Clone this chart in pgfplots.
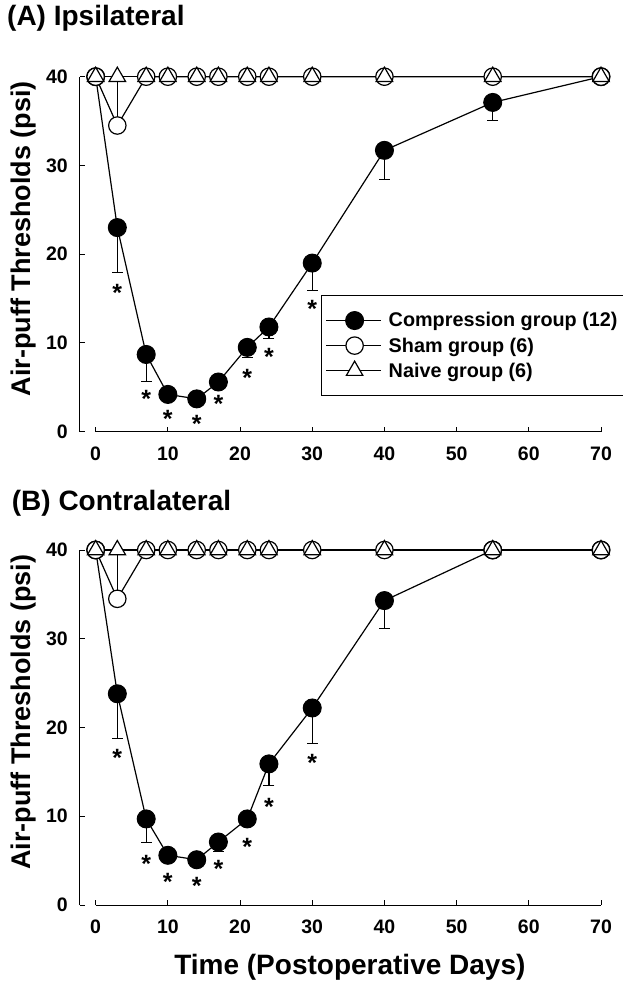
\documentclass[border=0pt]{standalone}
\usepackage{pgfplots}
\pgfplotsset{compat=1.18}
\usepackage{fontspec}
\setmainfont{Liberation Sans}

\newcommand{\tickfont}{\fontsize{19.5}{20}\selectfont\bfseries}
\newcommand{\legfont}{\fontsize{19.8}{20}\selectfont\bfseries}
\newcommand{\labfont}{\fontsize{27}{28}\selectfont\bfseries}
\newcommand{\titfont}{\fontsize{28}{29}\selectfont\bfseries}

\pgfplotsset{
  panel/.style={
    scale only axis, width=521pt, height=355pt,
    xmin=-2.17, xmax=70, ymin=0, ymax=40,
    clip=false,
    axis lines*=left,
    axis line style={draw=none},
    tick align=inside,
    major tick length=5pt,
    every tick/.style={black, line width=1pt},
    xtick={0,10,...,70}, ytick={0,10,...,40},
    minor tick num=0,
    /pgf/number format/assume math mode=true,
    xticklabel style={font=\tickfont, anchor=north, inner sep=0pt, yshift=-15pt},
    yticklabel style={font=\tickfont, anchor=east, inner sep=0pt, xshift=-12pt},
    ylabel={Air-puff Thresholds (psi)},
    ylabel style={font=\labfont, at={(axis description cs:-0.1075,0.543)}, anchor=center},
    title style={font=\titfont, anchor=base west, inner sep=0pt},
  },
  comp/.style={black, line width=1.2pt, mark=*, mark size=9pt,
    mark options={fill=black, line width=1pt},
    error bars/y dir=minus, error bars/y explicit,
    error bars/error bar style={line width=1.2pt},
    error bars/error mark options={mark size=5.5pt, line width=1.2pt, rotate=90}},
  sham/.style={black, line width=1.2pt, mark=*, mark size=8.7pt,
    mark options={fill=white, line width=1.2pt},
    error bars/y dir=plus, error bars/y explicit,
    error bars/error bar style={line width=1.2pt},
    error bars/error mark options={mark size=5.5pt, line width=1.2pt, rotate=90}},
  naive/.style={black, line width=1.2pt, mark=triangle*, mark size=9.5pt,
    mark options={fill=white, line width=1.2pt}},
  stars/.style={draw=none, mark=none, forget plot,
    nodes near coords={\fontsize{25}{25}\selectfont\bfseries *},
    nodes near coords align=center,
    every node near coord/.append style={anchor=center, inner sep=0pt, yshift=-5.4pt}},
}

\begin{document}
\begin{tikzpicture}
% ---------------- Panel A ----------------
\begin{axis}[panel, at={(0pt,0pt)}, anchor=south west,
  title={(A) Ipsilateral},
  title style={at={(axis description cs:-0.1401,1.1287)}},
  legend style={at={(axis description cs:0.4626,0.385)}, anchor=north west,
    draw=black, line width=1pt, font=\legfont,
    inner xsep=4pt, inner ysep=12.5pt, row sep=0pt,
    nodes={inner xsep=7pt, inner ysep=4.6pt}},
  legend cell align=left,
  legend image code/.code={\path (0pt,0pt) -- (55pt,0pt);
    \draw[mark repeat=2,mark phase=2,#1] plot coordinates {(6pt,0pt)(28.5pt,0pt)(51pt,0pt)};},
]
\addplot[comp] coordinates {
  (0,40) +- (0,0)
  (3,23.0) +- (0,5.1)
  (7,8.7) +- (0,3.0)
  (10,4.2) +- (0,0.5)
  (14,3.7) +- (0,0.5)
  (17,5.6) +- (0,0.6)
  (21,9.5) +- (0,1.1)
  (24,11.8) +- (0,1.3)
  (30,19.0) +- (0,3.1)
  (40,31.7) +- (0,3.3)
  (55,37.1) +- (0,2.0)
  (70,40) +- (0,0)
};
\addlegendentry{Compression group (12)}
\addplot[sham] coordinates {
  (0,40) +- (0,0)
  (3,34.5) +- (0,5.5)
  (7,40) +- (0,0)
  (10,40) +- (0,0)
  (14,40) +- (0,0)
  (17,40) +- (0,0)
  (21,40) +- (0,0)
  (24,40) +- (0,0)
  (30,40) +- (0,0)
  (40,40) +- (0,0)
  (55,40) +- (0,0)
  (70,40) +- (0,0)
};
\addlegendentry{Sham group (6)}
\addplot[naive] coordinates {
  (0,40) (3,40) (7,40) (10,40) (14,40) (17,40) (21,40) (24,40) (30,40) (40,40) (55,40) (70,40)
};
\addlegendentry{Naive group (6)}
\addplot[stars] coordinates {
  (3,16.3) (7,4.3) (10,2.0) (14,1.5) (17,3.7) (21,6.7) (24,9.0) (30,14.5)
};
\draw[line width=1pt] (rel axis cs:0,0) -- (rel axis cs:0,1);
\draw[line width=1pt] (axis cs:0,0) -- (axis cs:70,0);
\end{axis}

% ---------------- Panel B ----------------
\begin{axis}[panel, at={(0pt,-473.3pt)}, anchor=south west,
  title={(B) Contralateral},
  title style={at={(axis description cs:-0.1311,1.0938)}},
  xlabel={Time (Postoperative Days)},
  xlabel style={font=\fontsize{28}{29}\selectfont\bfseries, at={(axis description cs:0.518,-0.1944)}, anchor=base},
]
\addplot[comp] coordinates {
  (0,40) +- (0,0)
  (3,23.8) +- (0,5.0)
  (7,9.7) +- (0,2.7)
  (10,5.6) +- (0,0.5)
  (14,5.1) +- (0,0.5)
  (17,7.1) +- (0,1.1)
  (21,9.7) +- (0,0.5)
  (24,15.9) +- (0,2.4)
  (30,22.2) +- (0,4.0)
  (40,34.3) +- (0,3.1)
  (55,40) +- (0,0)
  (70,40) +- (0,0)
};
\addplot[sham] coordinates {
  (0,40) +- (0,0)
  (3,34.5) +- (0,5.5)
  (7,40) +- (0,0)
  (10,40) +- (0,0)
  (14,40) +- (0,0)
  (17,40) +- (0,0)
  (21,40) +- (0,0)
  (24,40) +- (0,0)
  (30,40) +- (0,0)
  (40,40) +- (0,0)
  (55,40) +- (0,0)
  (70,40) +- (0,0)
};
\addplot[naive] coordinates {
  (0,40) (3,40) (7,40) (10,40) (14,40) (17,40) (21,40) (24,40) (30,40) (40,40) (55,40) (70,40)
};
\addplot[stars] coordinates {
  (3,17.2) (7,5.2) (10,3.2) (14,2.8) (17,4.7) (21,7.1) (24,11.7) (30,16.6)
};
\draw[line width=1pt] (rel axis cs:0,0) -- (rel axis cs:0,1);
\draw[line width=1pt] (axis cs:0,0) -- (axis cs:70,0);
\end{axis}

\pgfresetboundingbox
\path (-80pt,431.7pt) rectangle (542pt,-553.3pt);
\end{tikzpicture}
\end{document}
